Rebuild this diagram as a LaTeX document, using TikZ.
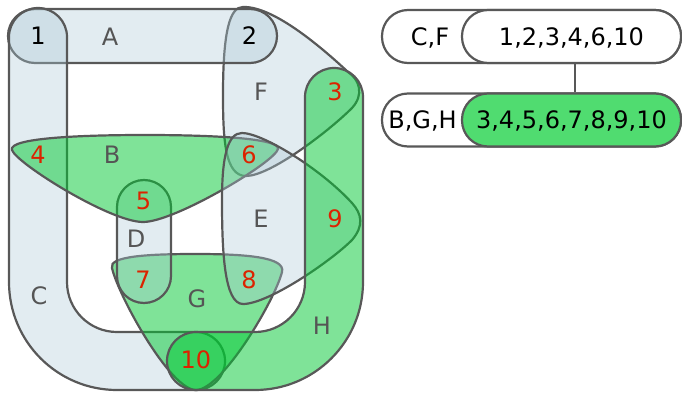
\documentclass[tikz,border=0pt]{standalone}
\usepackage{fontspec}
\setmainfont{DejaVu Sans}
\usetikzlibrary{calc}
\definecolor{edgeblue}{RGB}{171,200,214}
\definecolor{edgegreen}{RGB}{0,200,50}
\definecolor{strk}{RGB}{88,88,88}
\definecolor{vred}{RGB}{220,35,0}
\definecolor{lblgray}{RGB}{85,85,85}
\definecolor{boxgreen}{RGB}{80,220,112}
\begin{document}
\begin{tikzpicture}[x=1pt,y=1pt,yscale=-1,
  font=\fontsize{24}{28}\selectfont,
  bluehe/.style={fill=edgeblue, fill opacity=0.35, draw=strk, line width=2.2pt},
  greenhe/.style={fill=edgegreen, fill opacity=0.5, draw=strk, line width=2.2pt},
  vtx/.style={text=vred, inner sep=0pt, text depth=0pt},
  vtxk/.style={text=black, inner sep=0pt, text depth=0pt},
  elbl/.style={text=lblgray, inner sep=0pt, text depth=0pt},
  panelbox/.style={draw=strk, line width=2.2pt, rounded corners=26pt, minimum height=53pt, inner sep=0pt, text depth=0pt},
  conn/.style={draw=strk, line width=2.2pt}
]
\useasboundingbox (0,0) rectangle (682,393);

% F
\path[bluehe] (243,7) .. controls (230,7) and (223,30) .. (223,95)
  .. controls (223,140) and (225,176) .. (246,176)
  .. controls (270,176) and (328,132) .. (352,108)
  .. controls (364,95) and (360,80) .. (348,72)
  .. controls (318,44) and (272,6) .. (243,7) -- cycle;
% A
\path[bluehe] (35,9) -- (250,9) arc[start angle=-90,end angle=90,radius=27]
  -- (35,63) arc[start angle=90,end angle=270,radius=27] -- cycle;
% C
\path[bluehe] (9,37) arc[start angle=180,end angle=360,radius=29]
  -- (67,282) arc[start angle=180,end angle=90,radius=50]
  -- (196,332) arc[start angle=270,end angle=450,radius=29]
  -- (117,390) arc[start angle=90,end angle=180,radius=108] -- cycle;
% G
\path[greenhe] (112,268) .. controls (108,256) and (150,254) .. (196,254)
  .. controls (245,254) and (286,257) .. (282,272)
  .. controls (275,300) and (222,390) .. (196,390)
  .. controls (170,390) and (118,295) .. (112,268) -- cycle;
% D
\path[bluehe] (117,207) arc[start angle=180,end angle=360,radius=27]
  -- (171,276) arc[start angle=0,end angle=180,radius=27] -- cycle;
% B
\path[greenhe] (12,150) .. controls (8,138) and (80,135) .. (145,135)
  .. controls (210,135) and (280,138) .. (278,149)
  .. controls (275,162) and (175,222) .. (143,222)
  .. controls (110,222) and (16,163) .. (12,150) -- cycle;
% E
\path[bluehe] (242,133) .. controls (228,133) and (222,155) .. (222,200)
  .. controls (222,250) and (224,304) .. (243,304)
  .. controls (268,304) and (330,262) .. (352,240)
  .. controls (364,226) and (362,214) .. (352,203)
  .. controls (320,168) and (262,133) .. (242,133) -- cycle;
% H
\path[greenhe] (305,97) arc[start angle=180,end angle=360,radius=29]
  -- (363,282) arc[start angle=0,end angle=90,radius=108]
  -- (196,390) arc[start angle=90,end angle=270,radius=29]
  -- (255,332) arc[start angle=90,end angle=0,radius=50] -- cycle;

% edge labels
\node[elbl] (lA) at (110,37) {A};
\node[elbl] (lF) at (261,92) {F};
\node[elbl] (lB) at (112,155) {B};
\node[elbl] (lE) at (261,219) {E};
\node[elbl] (lD) at (136,239) {D};
\node[elbl] (lC) at (39,296) {C};
\node[elbl] (lG) at (197,299) {G};
\node[elbl] (lH) at (322,326) {H};

% vertices
\node[vtxk] (v1) at (38,36) {1};
\node[vtxk] (v2) at (249.5,36) {2};
\node[vtx] (v3) at (335,92) {3};
\node[vtx] (v4) at (38,155) {4};
\node[vtx] (v5) at (143.5,201) {5};
\node[vtx] (v6) at (249,155) {6};
\node[vtx] (v7) at (143,280) {7};
\node[vtx] (v8) at (249,280) {8};
\node[vtx] (v9) at (335,219) {9};
\node[vtx] (v10) at (196,360) {10};

% panel
\node[panelbox, fill=white, minimum width=299pt] (r1out) at (531.5,36.5) {};
\node[anchor=center, inner sep=0pt, text depth=0pt] (r1lbl) at (430,37) {C,F};
\node[panelbox, fill=white, minimum width=219pt] (r1in) at (571.5,36.5) {1,2,3,4,6,10};
\node[panelbox, fill=white, minimum width=299pt] (r2out) at (531.5,120) {};
\node[anchor=center, inner sep=0pt, text depth=0pt] (r2lbl) at (422.5,120) {B,G,H};
\node[panelbox, fill=boxgreen, minimum width=219pt] (r2in) at (571.5,120) {3,4,5,6,7,8,9,10};
\draw[conn] ([xshift=3.5pt]r1in.south) -- ([xshift=3.5pt]r2in.north);
\end{tikzpicture}
\end{document}
